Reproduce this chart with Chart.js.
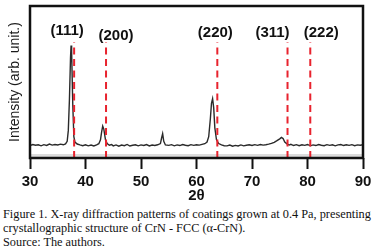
<!DOCTYPE html>
<html>
<head>
<meta charset="utf-8">
<script src="https://cdn.jsdelivr.net/npm/chart.js@4"></script>
<style>
  html, body { margin: 0; padding: 0; background: #fff; }
  #wrap { position: relative; width: 380px; height: 249px; overflow: hidden; }
  #xrd { position: absolute; left: 0; top: 0; }
  #caption {
    position: absolute; left: 3px; top: 207px; width: 377px;
    font-family: "Liberation Serif", "Times New Roman", serif;
    font-size: 12.3px; line-height: 14px; color: #111; white-space: nowrap;
  }
</style>
</head>
<body>
<div id="wrap">
  <canvas id="xrd" width="380" height="205"></canvas>
  <div id="caption">
    Figure 1. X-ray diffraction patterns of coatings grown at 0.4 Pa, presenting<br>
    crystallographic structure of CrN - FCC (&alpha;-CrN).<br>
    Source: The authors.
  </div>
</div>
<script>
const twoTheta = [
  30, 30.5, 31, 31.5, 32, 32.5, 33, 33.5, 34, 34.5, 35, 35.5, 36, 36.4, 36.7, 36.9,
  37.1, 37.3, 37.4, 37.5, 37.7, 37.9, 38.1, 38.5, 39, 39.5, 40, 40.5, 41, 41.5, 42,
  42.4, 42.7, 42.9, 43.1, 43.3, 43.6, 43.9, 44.3, 44.7, 45, 45.5, 46, 46.5, 47, 47.5,
  48, 48.5, 49, 49.5, 50, 50.5, 51, 51.5, 52, 52.5, 53, 53.5, 53.7, 53.9, 54.1, 54.4,
  55, 55.5, 56, 56.5, 57, 57.5, 58, 58.5, 59, 59.5, 60, 60.5, 61, 61.5, 61.9, 62.2,
  62.5, 62.7, 62.9, 63.1, 63.3, 63.6, 64, 64.5, 65, 65.5, 66, 66.5, 67, 67.5, 68, 68.5,
  69, 69.5, 70, 70.5, 71, 71.5, 72, 72.5, 73, 73.5, 74, 74.5, 75, 75.3, 75.6, 75.9,
  76.3, 76.7, 77, 77.5, 78, 78.5, 79, 79.5, 80, 80.5, 81, 81.5, 82, 82.5, 83, 83.5,
  84, 84.5, 85, 85.5, 86, 86.5, 87, 87.5, 88, 88.5, 89, 89.5, 90
];
const intensity = [
  8.2, 8.9, 8.4, 8.7, 8.0, 8.8, 8.3, 9.2, 8.5, 8.9, 8.6, 9.1, 8.7, 9.3, 11, 18,
  38, 66, 74, 70, 36, 14, 10.5, 9.2, 8.6, 8.1, 8.7, 8.0, 8.5, 7.9, 8.6,
  9.4, 12, 17, 21, 19, 12, 9.5, 8.4, 8.9, 8.0, 8.6, 7.8, 8.5, 8.1, 8.9,
  7.9, 8.4, 8.7, 8.0, 8.6, 8.2, 8.8, 7.9, 8.5, 8.2, 8.7, 9.5, 13, 16, 11, 8.6,
  8.3, 8.8, 8.0, 8.6, 8.2, 8.9, 8.4, 8.1, 8.8, 8.3, 8.7, 8.5, 9.0, 9.4, 10.5, 14,
  26, 36, 39, 33, 20, 12, 9.5, 8.6, 8.1, 8.0, 8.5, 7.8, 8.3, 7.9, 8.6, 8.0,
  8.4, 8.7, 8.2, 8.8, 8.3, 8.9, 8.5, 8.7, 9.1, 9.6, 10.3, 11.4, 12.6, 13.5, 12.8, 10.5,
  9.3, 8.5, 9.0, 8.2, 8.8, 8.1, 8.7, 8.3, 8.9, 8.0, 8.6, 8.2, 8.9, 8.4, 8.1, 8.8,
  8.3, 8.7, 8.0, 8.6, 8.9, 8.2, 8.7, 8.3, 8.8, 8.1, 8.6, 8.4, 8.7
];

// CrN FCC reference reflections
const refLabels = ['(111)', '(200)', '(220)', '(311)', '(222)'];
const refPositions = [37.95, 43.7, 63.75, 76.4, 80.5];

const xTicks = [30, 40, 50, 60, 70, 80, 90];

// label placement relative to its dashed line (px)
const labelDx = [-7, 10, -2, -15, 11];
const labelY = [31, 36, 33, 33, 33];
const refTop = 76;

const refSets = refPositions.map(p => ({
  data: [{ x: p, y: 0 }, { x: p, y: refTop }],
  borderColor: '#e8232e',
  borderWidth: 2,
  borderDash: [7, 4.5],
  pointRadius: 0,
  order: 1
}));

const framePlugin = {
  id: 'frame',
  beforeDatasetsDraw(chart) {
    const { ctx, chartArea: a } = chart;
    ctx.save();
    ctx.fillStyle = '#dcdcdc';
    ctx.fillRect(a.left, a.bottom - 4, a.right - a.left, 4);
    ctx.restore();
  },
  afterDatasetsDraw(chart) {
    const { ctx, chartArea: a, scales } = chart;
    ctx.save();
    ctx.strokeStyle = '#111';
    ctx.lineWidth = 2.5;
    ctx.strokeRect(a.left, a.top, a.right - a.left, a.bottom - a.top);

    ctx.fillStyle = '#111';
    ctx.font = 'bold 15px "Liberation Sans", Arial, sans-serif';
    ctx.textAlign = 'center';
    ctx.textBaseline = 'middle';
    refLabels.forEach((t, i) => {
      const x = scales.x.getPixelForValue(refPositions[i]) + labelDx[i];
      ctx.fillText(t, x, labelY[i]);
    });
    ctx.restore();
  }
};

new Chart(document.getElementById('xrd'), {
  type: 'line',
  data: {
    datasets: [{
      data: twoTheta.map((t, i) => ({ x: t, y: intensity[i] })),
      borderColor: '#2a2a2a',
      borderWidth: 1.4,
      pointRadius: 0,
      tension: 0,
      order: 2
    }, ...refSets]
  },
  options: {
    responsive: false,
    animation: false,
    layout: { padding: { top: 6, right: 17, left: 0, bottom: 0 } },
    plugins: { legend: { display: false }, tooltip: { enabled: false } },
    scales: {
      x: {
        type: 'linear',
        min: 30,
        max: 90,
        afterBuildTicks: s => { s.ticks = xTicks.map(v => ({ value: v })); },
        afterFit: s => { s.height = 47; },
        border: { display: false },
        grid: { drawOnChartArea: false, drawTicks: true, tickLength: 11, tickWidth: 2, color: '#111' },
        ticks: {
          color: '#111',
          padding: 4,
          maxRotation: 0,
          font: { family: '"Liberation Sans", Arial, sans-serif', size: 15, weight: 'bold' }
        },
        title: {
          display: true,
          text: '2θ',
          color: '#111',
          padding: { top: 0, bottom: 0 },
          font: { family: '"Liberation Sans", Arial, sans-serif', size: 15, weight: 'bold' }
        }
      },
      y: {
        min: 0,
        max: 100,
        afterFit: s => { s.width = 30; },
        border: { display: false },
        grid: { display: false },
        ticks: { display: false },
        title: {
          display: true,
          text: 'Intensity (arb. unit.)',
          color: '#1a1a1a',
          padding: { top: 7, bottom: 0 },
          font: { family: '"Liberation Sans", Arial, sans-serif', size: 14 }
        }
      }
    }
  },
  plugins: [framePlugin]
});
</script>
</body>
</html>
